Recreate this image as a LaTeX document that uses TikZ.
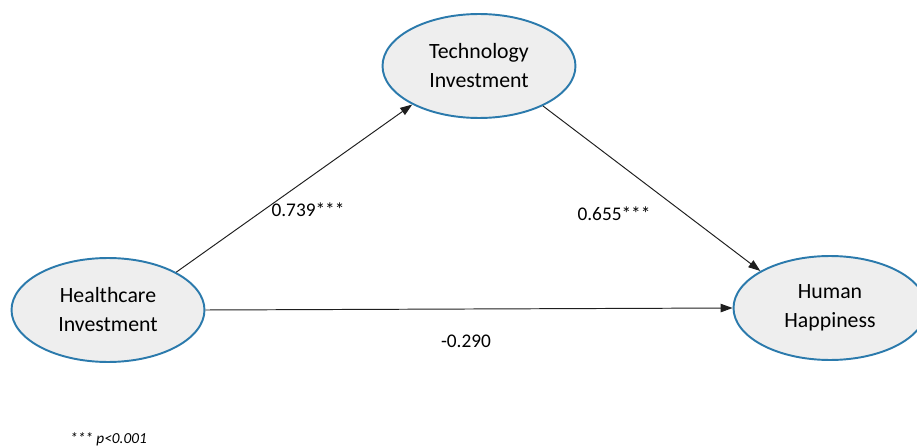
\documentclass[tikz,border=0pt]{standalone}
\usepackage{fontspec}
\setmainfont{Carlito}
\usepackage{tikz}
\usetikzlibrary{positioning, shapes.geometric, arrows.meta}
\definecolor{varBlue}{RGB}{43,122,172}
\definecolor{varFill}{RGB}{238,238,238}
\definecolor{pathGray}{RGB}{30,30,30}

\tikzset{
	var/.style={ellipse, draw=varBlue, fill=varFill, line width=1.1pt, minimum width=3.86cm, minimum height=2.08cm, align=center, font=\fontsize{12.4}{16.5}\selectfont},
	path/.style={draw=pathGray, line width=0.55pt, -{Triangle[length=2.4mm, width=1.7mm]}},
	coef/.style={font=\fontsize{11}{13}\selectfont}
}

\begin{document}
\begin{tikzpicture}[x=0.02cm, y=-0.02cm]
	\useasboundingbox (0,0) rectangle (917,446);
	
	% Variables
	\node[var] (hc) at (108,310) {Healthcare\\Investment};
	\node[var] (tech) at (479,66) {Technology\\Investment};
	\node[var] (hh) at (830,308) {Human\\Happiness};
	
	% Paths
	\draw[path] (hc.29) -- (tech.210);
	\draw[path] (tech.328) -- (hh.152);
	\draw[path] (hc.east) -- (hh.west);
	
	% Coefficients
	\node[coef] (a) at (308,210) {0.739***};
	\node[coef] (b) at (614,214) {0.655***};
	\node[coef] (c) at (466,341) {-0.290};
	
	\node[font=\fontsize{8.7}{10}\selectfont\itshape, anchor=base west] (note) at (64,443) {*** p<0.001};
\end{tikzpicture}
\end{document}
